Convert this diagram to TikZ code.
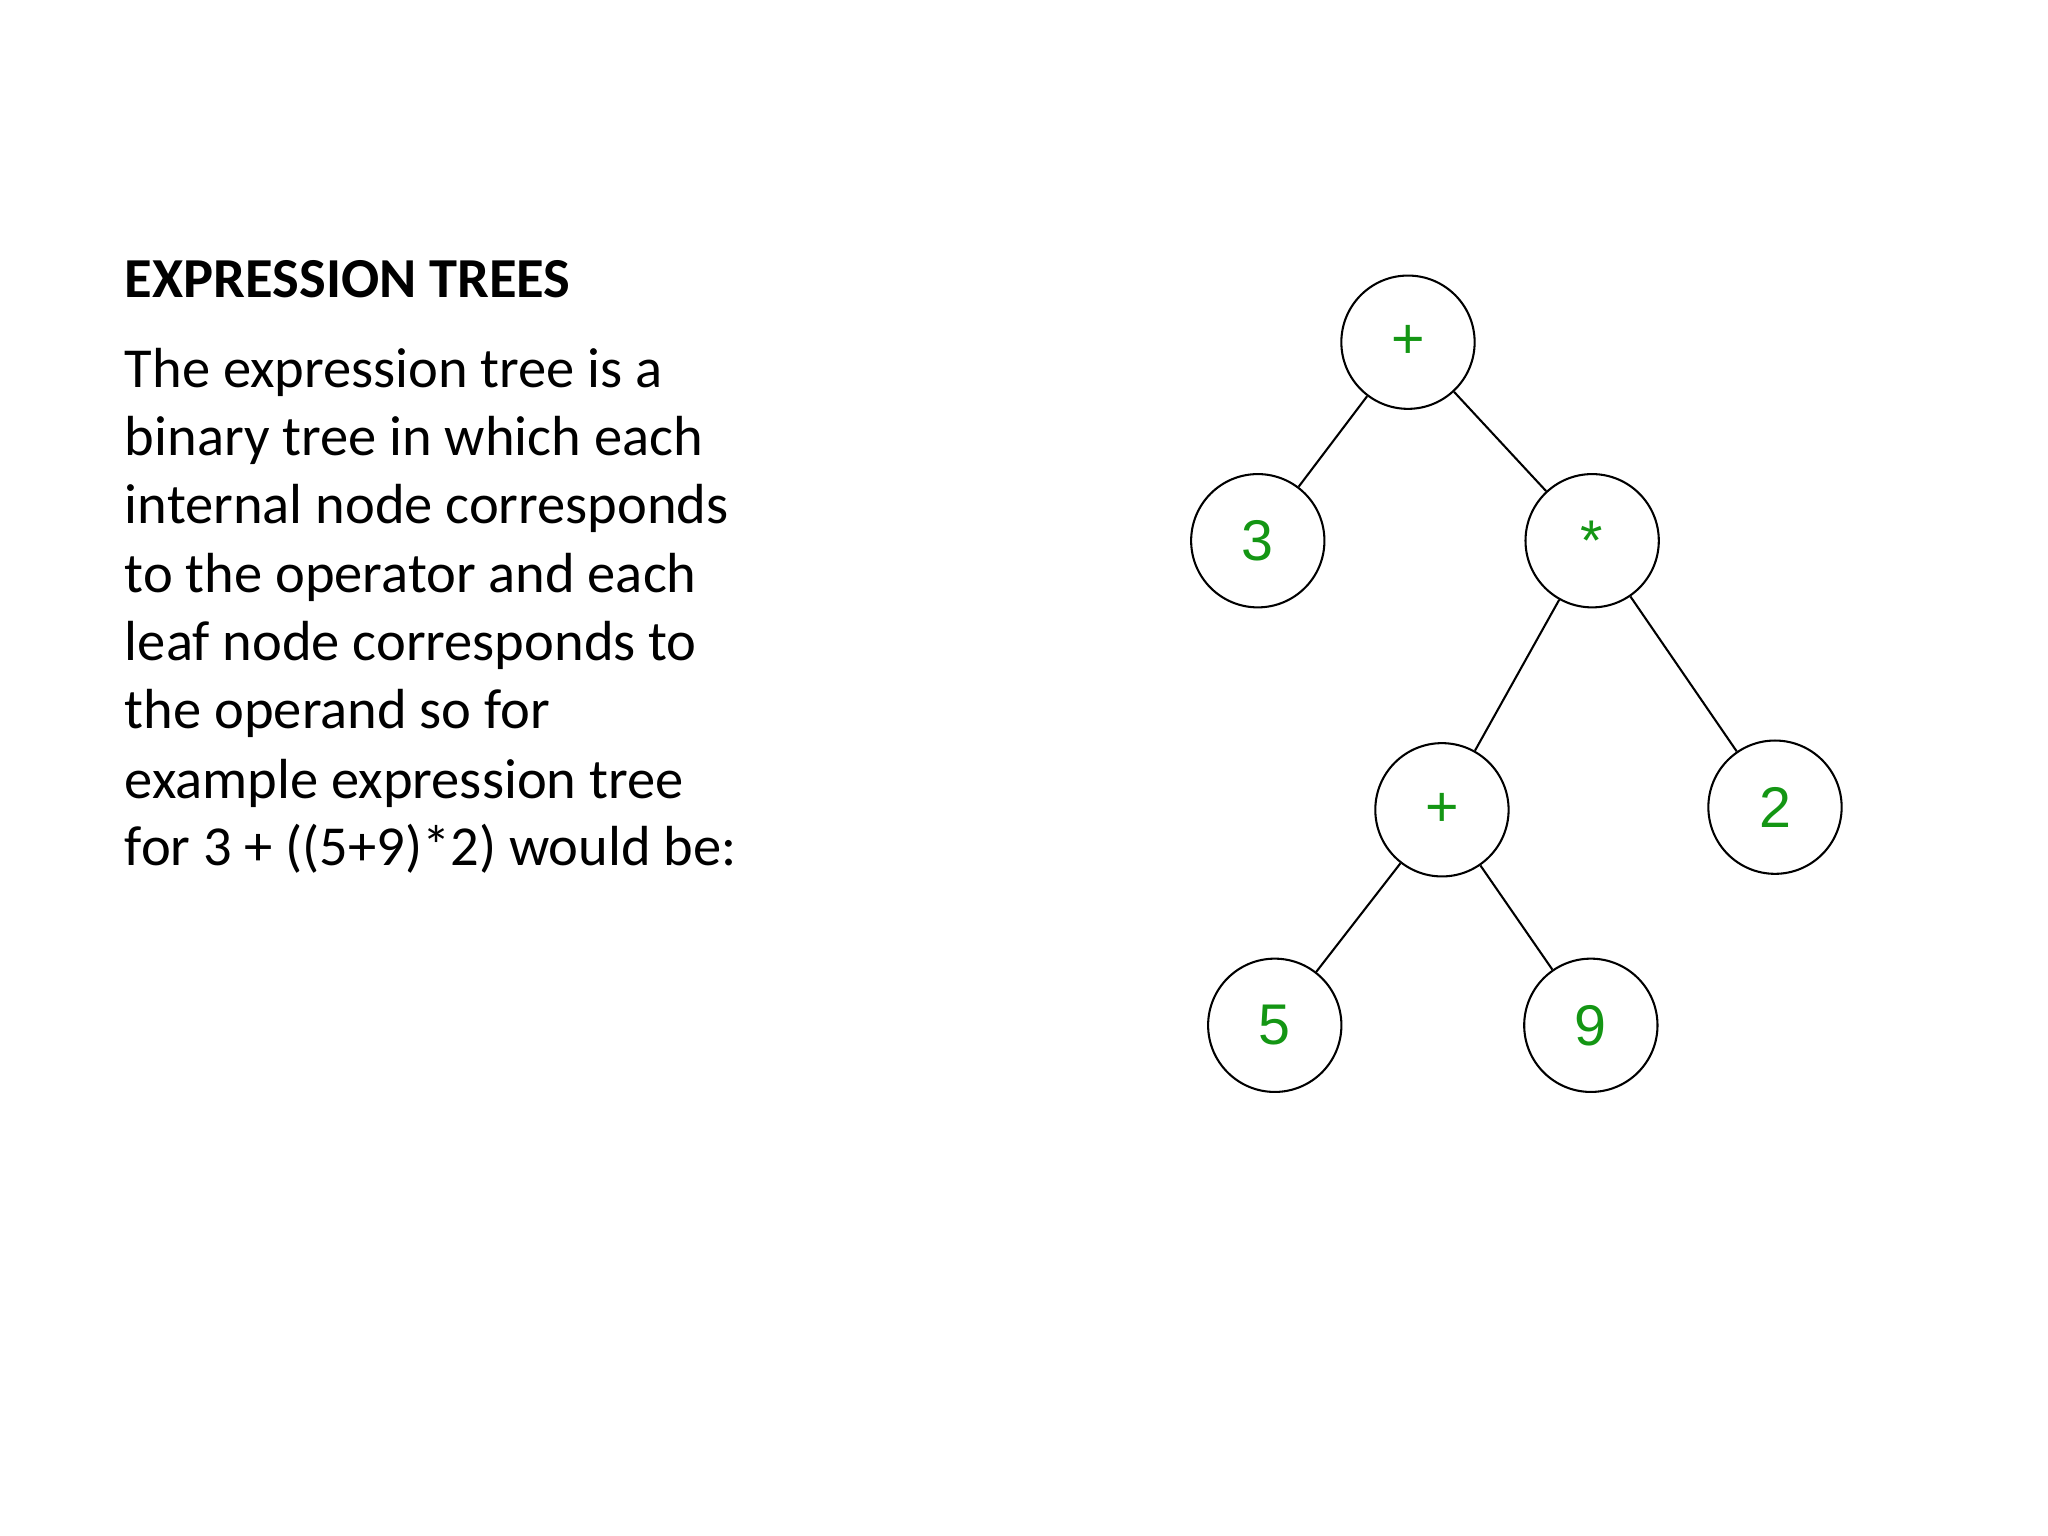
\documentclass[tikz,border=0pt]{standalone}
\usepackage{fontspec}
\setmainfont{Carlito}
\newfontfamily\arialf{Liberation Sans}
\definecolor{tgreen}{RGB}{20,150,20}
\begin{document}
\begin{tikzpicture}[x=0.01cm,y=-0.01cm,
  tn/.style={circle,draw,line width=0.45pt,minimum size=1.02cm,inner sep=0pt,font=\arialf\fontsize{12.5}{14}\selectfont,text=tgreen},
  edge/.style={line width=0.45pt},
  txt/.style={anchor=base west,inner sep=0pt,font=\fontsize{12.3}{14}\selectfont}]
\useasboundingbox (0,0) rectangle (1568,1176);
\node[txt,font=\bfseries\fontsize{12.3}{14}\selectfont] (title) at (95,228) {EXPRESSION TREES};
\node[txt] (l1) at (95,297) {The expression tree is a};
\node[txt] (l2) at (95,349) {binary tree in which each};
\node[txt] (l3) at (95,401) {internal node corresponds};
\node[txt] (l4) at (95,454) {to the operator and each};
\node[txt] (l5) at (95,506) {leaf node corresponds to};
\node[txt] (l6) at (95,558) {the operand so for};
\node[txt] (l7) at (95,611) {example expression tree};
\node[txt] (l8) at (95,663) {for 3 + ((5+9)*2) would be:};
\node[tn] (p1) at (1078,262) {+};
\node[tn] (n3) at (963,414) {3};
\node[tn] (m) at (1219,414) {*};
\node[tn] (p2) at (1104,620) {+};
\node[tn] (n2) at (1359,618) {2};
\node[tn] (n5) at (976,785) {5};
\node[tn] (n9) at (1218,785) {9};
\draw[edge] (p1) -- (n3);
\draw[edge] (p1) -- (m);
\draw[edge] (m) -- (p2);
\draw[edge] (m) -- (n2);
\draw[edge] (p2) -- (n5);
\draw[edge] (p2) -- (n9);
\end{tikzpicture}
\end{document}
